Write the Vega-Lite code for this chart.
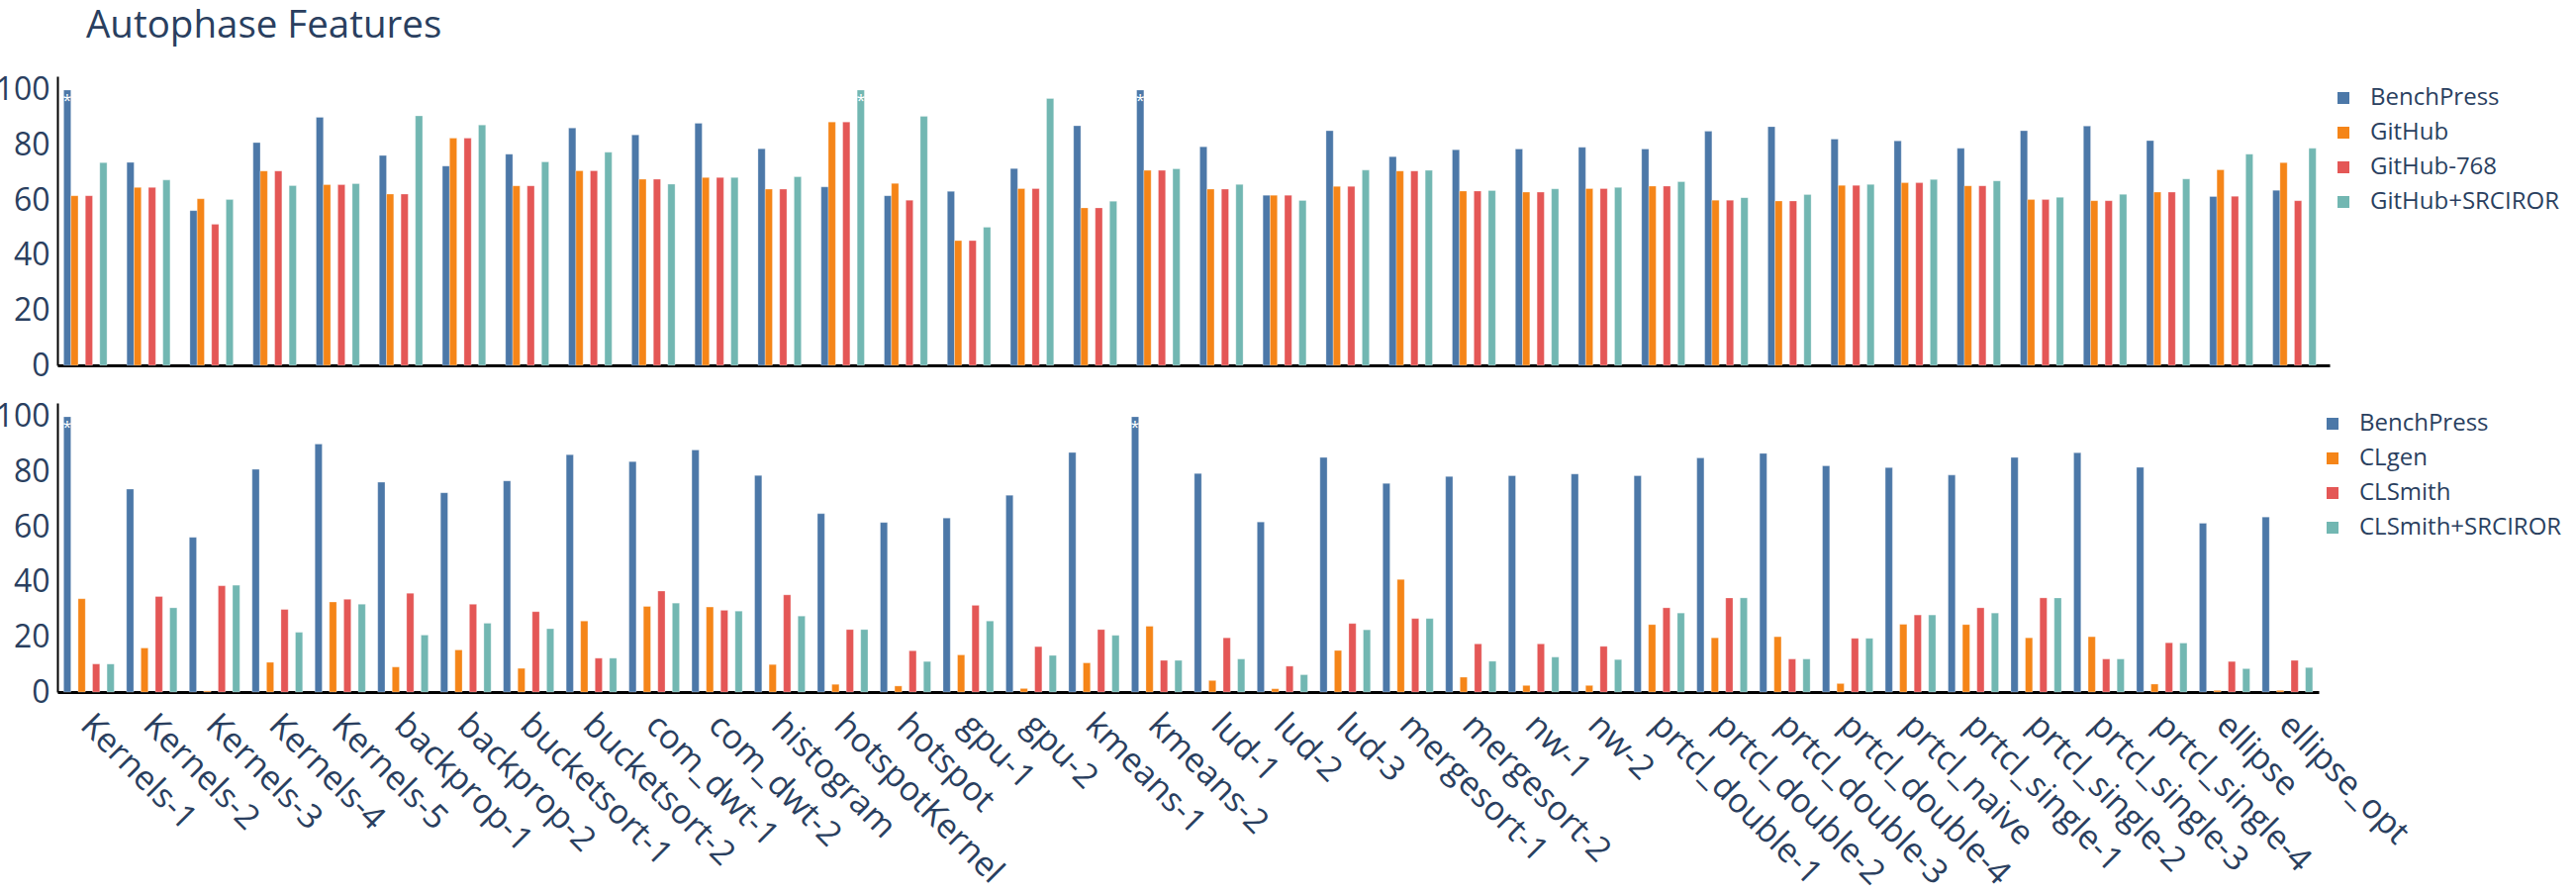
{
  "$schema": "https://vega.github.io/schema/vega-lite/v6.json",
  "padding": {"left": -5, "top": 7, "right": 0, "bottom": 0},
  "background": "white",
  "config": {
    "font": "Open Sans",
    "view": {"stroke": null},
    "axis": {"labelColor": "#2a3f5f", "labelFont": "Open Sans", "grid": false, "ticks": false, "title": null},
    "legend": {"labelFont": "Open Sans"}
  },
  "title": {"text": "Autophase Features", "anchor": "start", "frame": "group", "fontSize": 38.5, "fontWeight": "normal", "color": "#2a3f5f", "font": "Open Sans", "dx": 29, "offset": 28},
  "spacing": 19,
  "resolve": {"scale": {"color": "independent"}},
  "datasets": {
    "github": [
      {"benchmark": "Kernels-1", "source": "BenchPress", "value": 100},
      {"benchmark": "Kernels-1", "source": "GitHub", "value": 61.6},
      {"benchmark": "Kernels-1", "source": "GitHub-768", "value": 61.6},
      {"benchmark": "Kernels-1", "source": "GitHub+SRCIROR", "value": 73.6},
      {"benchmark": "Kernels-2", "source": "BenchPress", "value": 73.7},
      {"benchmark": "Kernels-2", "source": "GitHub", "value": 64.6},
      {"benchmark": "Kernels-2", "source": "GitHub-768", "value": 64.6},
      {"benchmark": "Kernels-2", "source": "GitHub+SRCIROR", "value": 67.3},
      {"benchmark": "Kernels-3", "source": "BenchPress", "value": 56.2},
      {"benchmark": "Kernels-3", "source": "GitHub", "value": 60.5},
      {"benchmark": "Kernels-3", "source": "GitHub-768", "value": 51.2},
      {"benchmark": "Kernels-3", "source": "GitHub+SRCIROR", "value": 60.2},
      {"benchmark": "Kernels-4", "source": "BenchPress", "value": 80.9},
      {"benchmark": "Kernels-4", "source": "GitHub", "value": 70.6},
      {"benchmark": "Kernels-4", "source": "GitHub-768", "value": 70.6},
      {"benchmark": "Kernels-4", "source": "GitHub+SRCIROR", "value": 65.3},
      {"benchmark": "Kernels-5", "source": "BenchPress", "value": 90.1},
      {"benchmark": "Kernels-5", "source": "GitHub", "value": 65.6},
      {"benchmark": "Kernels-5", "source": "GitHub-768", "value": 65.6},
      {"benchmark": "Kernels-5", "source": "GitHub+SRCIROR", "value": 66.0},
      {"benchmark": "backprop-1", "source": "BenchPress", "value": 76.2},
      {"benchmark": "backprop-1", "source": "GitHub", "value": 62.2},
      {"benchmark": "backprop-1", "source": "GitHub-768", "value": 62.2},
      {"benchmark": "backprop-1", "source": "GitHub+SRCIROR", "value": 90.6},
      {"benchmark": "backprop-2", "source": "BenchPress", "value": 72.4},
      {"benchmark": "backprop-2", "source": "GitHub", "value": 82.5},
      {"benchmark": "backprop-2", "source": "GitHub-768", "value": 82.5},
      {"benchmark": "backprop-2", "source": "GitHub+SRCIROR", "value": 87.3},
      {"benchmark": "bucketsort-1", "source": "BenchPress", "value": 76.7},
      {"benchmark": "bucketsort-1", "source": "GitHub", "value": 65.2},
      {"benchmark": "bucketsort-1", "source": "GitHub-768", "value": 65.2},
      {"benchmark": "bucketsort-1", "source": "GitHub+SRCIROR", "value": 73.9},
      {"benchmark": "bucketsort-2", "source": "BenchPress", "value": 86.2},
      {"benchmark": "bucketsort-2", "source": "GitHub", "value": 70.7},
      {"benchmark": "bucketsort-2", "source": "GitHub-768", "value": 70.7},
      {"benchmark": "bucketsort-2", "source": "GitHub+SRCIROR", "value": 77.4},
      {"benchmark": "com_dwt-1", "source": "BenchPress", "value": 83.7},
      {"benchmark": "com_dwt-1", "source": "GitHub", "value": 67.6},
      {"benchmark": "com_dwt-1", "source": "GitHub-768", "value": 67.6},
      {"benchmark": "com_dwt-1", "source": "GitHub+SRCIROR", "value": 65.8},
      {"benchmark": "com_dwt-2", "source": "BenchPress", "value": 87.9},
      {"benchmark": "com_dwt-2", "source": "GitHub", "value": 68.2},
      {"benchmark": "com_dwt-2", "source": "GitHub-768", "value": 68.2},
      {"benchmark": "com_dwt-2", "source": "GitHub+SRCIROR", "value": 68.2},
      {"benchmark": "histogram", "source": "BenchPress", "value": 78.7},
      {"benchmark": "histogram", "source": "GitHub", "value": 64.0},
      {"benchmark": "histogram", "source": "GitHub-768", "value": 64.0},
      {"benchmark": "histogram", "source": "GitHub+SRCIROR", "value": 68.5},
      {"benchmark": "hotspotKernel", "source": "BenchPress", "value": 64.8},
      {"benchmark": "hotspotKernel", "source": "GitHub", "value": 88.4},
      {"benchmark": "hotspotKernel", "source": "GitHub-768", "value": 88.4},
      {"benchmark": "hotspotKernel", "source": "GitHub+SRCIROR", "value": 100},
      {"benchmark": "hotspot", "source": "BenchPress", "value": 61.6},
      {"benchmark": "hotspot", "source": "GitHub", "value": 66.1},
      {"benchmark": "hotspot", "source": "GitHub-768", "value": 60.0},
      {"benchmark": "hotspot", "source": "GitHub+SRCIROR", "value": 90.4},
      {"benchmark": "gpu-1", "source": "BenchPress", "value": 63.2},
      {"benchmark": "gpu-1", "source": "GitHub", "value": 45.3},
      {"benchmark": "gpu-1", "source": "GitHub-768", "value": 45.3},
      {"benchmark": "gpu-1", "source": "GitHub+SRCIROR", "value": 50.2},
      {"benchmark": "gpu-2", "source": "BenchPress", "value": 71.5},
      {"benchmark": "gpu-2", "source": "GitHub", "value": 64.2},
      {"benchmark": "gpu-2", "source": "GitHub-768", "value": 64.2},
      {"benchmark": "gpu-2", "source": "GitHub+SRCIROR", "value": 96.9},
      {"benchmark": "kmeans-1", "source": "BenchPress", "value": 87.0},
      {"benchmark": "kmeans-1", "source": "GitHub", "value": 57.2},
      {"benchmark": "kmeans-1", "source": "GitHub-768", "value": 57.2},
      {"benchmark": "kmeans-1", "source": "GitHub+SRCIROR", "value": 59.6},
      {"benchmark": "kmeans-2", "source": "BenchPress", "value": 100},
      {"benchmark": "kmeans-2", "source": "GitHub", "value": 70.8},
      {"benchmark": "kmeans-2", "source": "GitHub-768", "value": 70.8},
      {"benchmark": "kmeans-2", "source": "GitHub+SRCIROR", "value": 71.4},
      {"benchmark": "lud-1", "source": "BenchPress", "value": 79.4},
      {"benchmark": "lud-1", "source": "GitHub", "value": 64.0},
      {"benchmark": "lud-1", "source": "GitHub-768", "value": 64.0},
      {"benchmark": "lud-1", "source": "GitHub+SRCIROR", "value": 65.7},
      {"benchmark": "lud-2", "source": "BenchPress", "value": 61.8},
      {"benchmark": "lud-2", "source": "GitHub", "value": 61.8},
      {"benchmark": "lud-2", "source": "GitHub-768", "value": 61.8},
      {"benchmark": "lud-2", "source": "GitHub+SRCIROR", "value": 59.9},
      {"benchmark": "lud-3", "source": "BenchPress", "value": 85.2},
      {"benchmark": "lud-3", "source": "GitHub", "value": 65.0},
      {"benchmark": "lud-3", "source": "GitHub-768", "value": 65.0},
      {"benchmark": "lud-3", "source": "GitHub+SRCIROR", "value": 70.9},
      {"benchmark": "mergesort-1", "source": "BenchPress", "value": 75.8},
      {"benchmark": "mergesort-1", "source": "GitHub", "value": 70.6},
      {"benchmark": "mergesort-1", "source": "GitHub-768", "value": 70.6},
      {"benchmark": "mergesort-1", "source": "GitHub+SRCIROR", "value": 70.8},
      {"benchmark": "mergesort-2", "source": "BenchPress", "value": 78.3},
      {"benchmark": "mergesort-2", "source": "GitHub", "value": 63.3},
      {"benchmark": "mergesort-2", "source": "GitHub-768", "value": 63.3},
      {"benchmark": "mergesort-2", "source": "GitHub+SRCIROR", "value": 63.5},
      {"benchmark": "nw-1", "source": "BenchPress", "value": 78.6},
      {"benchmark": "nw-1", "source": "GitHub", "value": 62.9},
      {"benchmark": "nw-1", "source": "GitHub-768", "value": 62.9},
      {"benchmark": "nw-1", "source": "GitHub+SRCIROR", "value": 64.1},
      {"benchmark": "nw-2", "source": "BenchPress", "value": 79.2},
      {"benchmark": "nw-2", "source": "GitHub", "value": 64.2},
      {"benchmark": "nw-2", "source": "GitHub-768", "value": 64.2},
      {"benchmark": "nw-2", "source": "GitHub+SRCIROR", "value": 64.6},
      {"benchmark": "prtcl_double-1", "source": "BenchPress", "value": 78.6},
      {"benchmark": "prtcl_double-1", "source": "GitHub", "value": 65.1},
      {"benchmark": "prtcl_double-1", "source": "GitHub-768", "value": 65.1},
      {"benchmark": "prtcl_double-1", "source": "GitHub+SRCIROR", "value": 66.7},
      {"benchmark": "prtcl_double-2", "source": "BenchPress", "value": 85.0},
      {"benchmark": "prtcl_double-2", "source": "GitHub", "value": 60.0},
      {"benchmark": "prtcl_double-2", "source": "GitHub-768", "value": 60.0},
      {"benchmark": "prtcl_double-2", "source": "GitHub+SRCIROR", "value": 60.9},
      {"benchmark": "prtcl_double-3", "source": "BenchPress", "value": 86.7},
      {"benchmark": "prtcl_double-3", "source": "GitHub", "value": 59.7},
      {"benchmark": "prtcl_double-3", "source": "GitHub-768", "value": 59.7},
      {"benchmark": "prtcl_double-3", "source": "GitHub+SRCIROR", "value": 62.0},
      {"benchmark": "prtcl_double-4", "source": "BenchPress", "value": 82.2},
      {"benchmark": "prtcl_double-4", "source": "GitHub", "value": 65.4},
      {"benchmark": "prtcl_double-4", "source": "GitHub-768", "value": 65.4},
      {"benchmark": "prtcl_double-4", "source": "GitHub+SRCIROR", "value": 65.7},
      {"benchmark": "prtcl_naive", "source": "BenchPress", "value": 81.5},
      {"benchmark": "prtcl_naive", "source": "GitHub", "value": 66.3},
      {"benchmark": "prtcl_naive", "source": "GitHub-768", "value": 66.3},
      {"benchmark": "prtcl_naive", "source": "GitHub+SRCIROR", "value": 67.5},
      {"benchmark": "prtcl_single-1", "source": "BenchPress", "value": 78.8},
      {"benchmark": "prtcl_single-1", "source": "GitHub", "value": 65.2},
      {"benchmark": "prtcl_single-1", "source": "GitHub-768", "value": 65.2},
      {"benchmark": "prtcl_single-1", "source": "GitHub+SRCIROR", "value": 67.0},
      {"benchmark": "prtcl_single-2", "source": "BenchPress", "value": 85.2},
      {"benchmark": "prtcl_single-2", "source": "GitHub", "value": 60.2},
      {"benchmark": "prtcl_single-2", "source": "GitHub-768", "value": 60.2},
      {"benchmark": "prtcl_single-2", "source": "GitHub+SRCIROR", "value": 61.0},
      {"benchmark": "prtcl_single-3", "source": "BenchPress", "value": 86.9},
      {"benchmark": "prtcl_single-3", "source": "GitHub", "value": 59.8},
      {"benchmark": "prtcl_single-3", "source": "GitHub-768", "value": 59.8},
      {"benchmark": "prtcl_single-3", "source": "GitHub+SRCIROR", "value": 62.1},
      {"benchmark": "prtcl_single-4", "source": "BenchPress", "value": 81.6},
      {"benchmark": "prtcl_single-4", "source": "GitHub", "value": 62.9},
      {"benchmark": "prtcl_single-4", "source": "GitHub-768", "value": 62.9},
      {"benchmark": "prtcl_single-4", "source": "GitHub+SRCIROR", "value": 67.7},
      {"benchmark": "ellipse", "source": "BenchPress", "value": 61.3},
      {"benchmark": "ellipse", "source": "GitHub", "value": 71.0},
      {"benchmark": "ellipse", "source": "GitHub-768", "value": 61.4},
      {"benchmark": "ellipse", "source": "GitHub+SRCIROR", "value": 76.7},
      {"benchmark": "ellipse_opt", "source": "BenchPress", "value": 63.6},
      {"benchmark": "ellipse_opt", "source": "GitHub", "value": 73.6},
      {"benchmark": "ellipse_opt", "source": "GitHub-768", "value": 59.8},
      {"benchmark": "ellipse_opt", "source": "GitHub+SRCIROR", "value": 78.8}
    ],
    "clsmith": [
      {"benchmark": "Kernels-1", "source": "BenchPress", "value": 100},
      {"benchmark": "Kernels-1", "source": "CLgen", "value": 33.9},
      {"benchmark": "Kernels-1", "source": "CLSmith", "value": 10.2},
      {"benchmark": "Kernels-1", "source": "CLSmith+SRCIROR", "value": 10.2},
      {"benchmark": "Kernels-2", "source": "BenchPress", "value": 73.7},
      {"benchmark": "Kernels-2", "source": "CLgen", "value": 16.0},
      {"benchmark": "Kernels-2", "source": "CLSmith", "value": 34.7},
      {"benchmark": "Kernels-2", "source": "CLSmith+SRCIROR", "value": 30.6},
      {"benchmark": "Kernels-3", "source": "BenchPress", "value": 56.2},
      {"benchmark": "Kernels-3", "source": "CLgen", "value": 0.4},
      {"benchmark": "Kernels-3", "source": "CLSmith", "value": 38.6},
      {"benchmark": "Kernels-3", "source": "CLSmith+SRCIROR", "value": 38.8},
      {"benchmark": "Kernels-4", "source": "BenchPress", "value": 80.9},
      {"benchmark": "Kernels-4", "source": "CLgen", "value": 10.8},
      {"benchmark": "Kernels-4", "source": "CLSmith", "value": 30.0},
      {"benchmark": "Kernels-4", "source": "CLSmith+SRCIROR", "value": 21.7},
      {"benchmark": "Kernels-5", "source": "BenchPress", "value": 90.1},
      {"benchmark": "Kernels-5", "source": "CLgen", "value": 32.7},
      {"benchmark": "Kernels-5", "source": "CLSmith", "value": 33.7},
      {"benchmark": "Kernels-5", "source": "CLSmith+SRCIROR", "value": 31.9},
      {"benchmark": "backprop-1", "source": "BenchPress", "value": 76.2},
      {"benchmark": "backprop-1", "source": "CLgen", "value": 9.1},
      {"benchmark": "backprop-1", "source": "CLSmith", "value": 35.9},
      {"benchmark": "backprop-1", "source": "CLSmith+SRCIROR", "value": 20.7},
      {"benchmark": "backprop-2", "source": "BenchPress", "value": 72.4},
      {"benchmark": "backprop-2", "source": "CLgen", "value": 15.3},
      {"benchmark": "backprop-2", "source": "CLSmith", "value": 31.9},
      {"benchmark": "backprop-2", "source": "CLSmith+SRCIROR", "value": 25.0},
      {"benchmark": "bucketsort-1", "source": "BenchPress", "value": 76.7},
      {"benchmark": "bucketsort-1", "source": "CLgen", "value": 8.6},
      {"benchmark": "bucketsort-1", "source": "CLSmith", "value": 29.2},
      {"benchmark": "bucketsort-1", "source": "CLSmith+SRCIROR", "value": 23.0},
      {"benchmark": "bucketsort-2", "source": "BenchPress", "value": 86.2},
      {"benchmark": "bucketsort-2", "source": "CLgen", "value": 25.8},
      {"benchmark": "bucketsort-2", "source": "CLSmith", "value": 12.3},
      {"benchmark": "bucketsort-2", "source": "CLSmith+SRCIROR", "value": 12.3},
      {"benchmark": "com_dwt-1", "source": "BenchPress", "value": 83.7},
      {"benchmark": "com_dwt-1", "source": "CLgen", "value": 31.1},
      {"benchmark": "com_dwt-1", "source": "CLSmith", "value": 36.7},
      {"benchmark": "com_dwt-1", "source": "CLSmith+SRCIROR", "value": 32.3},
      {"benchmark": "com_dwt-2", "source": "BenchPress", "value": 87.9},
      {"benchmark": "com_dwt-2", "source": "CLgen", "value": 30.9},
      {"benchmark": "com_dwt-2", "source": "CLSmith", "value": 29.7},
      {"benchmark": "com_dwt-2", "source": "CLSmith+SRCIROR", "value": 29.4},
      {"benchmark": "histogram", "source": "BenchPress", "value": 78.7},
      {"benchmark": "histogram", "source": "CLgen", "value": 10.0},
      {"benchmark": "histogram", "source": "CLSmith", "value": 35.3},
      {"benchmark": "histogram", "source": "CLSmith+SRCIROR", "value": 27.6},
      {"benchmark": "hotspotKernel", "source": "BenchPress", "value": 64.8},
      {"benchmark": "hotspotKernel", "source": "CLgen", "value": 2.8},
      {"benchmark": "hotspotKernel", "source": "CLSmith", "value": 22.7},
      {"benchmark": "hotspotKernel", "source": "CLSmith+SRCIROR", "value": 22.7},
      {"benchmark": "hotspot", "source": "BenchPress", "value": 61.6},
      {"benchmark": "hotspot", "source": "CLgen", "value": 2.2},
      {"benchmark": "hotspot", "source": "CLSmith", "value": 15.0},
      {"benchmark": "hotspot", "source": "CLSmith+SRCIROR", "value": 11.1},
      {"benchmark": "gpu-1", "source": "BenchPress", "value": 63.2},
      {"benchmark": "gpu-1", "source": "CLgen", "value": 13.5},
      {"benchmark": "gpu-1", "source": "CLSmith", "value": 31.5},
      {"benchmark": "gpu-1", "source": "CLSmith+SRCIROR", "value": 25.8},
      {"benchmark": "gpu-2", "source": "BenchPress", "value": 71.5},
      {"benchmark": "gpu-2", "source": "CLgen", "value": 1.3},
      {"benchmark": "gpu-2", "source": "CLSmith", "value": 16.5},
      {"benchmark": "gpu-2", "source": "CLSmith+SRCIROR", "value": 13.3},
      {"benchmark": "kmeans-1", "source": "BenchPress", "value": 87.0},
      {"benchmark": "kmeans-1", "source": "CLgen", "value": 10.6},
      {"benchmark": "kmeans-1", "source": "CLSmith", "value": 22.7},
      {"benchmark": "kmeans-1", "source": "CLSmith+SRCIROR", "value": 20.6},
      {"benchmark": "kmeans-2", "source": "BenchPress", "value": 100},
      {"benchmark": "kmeans-2", "source": "CLgen", "value": 23.9},
      {"benchmark": "kmeans-2", "source": "CLSmith", "value": 11.5},
      {"benchmark": "kmeans-2", "source": "CLSmith+SRCIROR", "value": 11.5},
      {"benchmark": "lud-1", "source": "BenchPress", "value": 79.4},
      {"benchmark": "lud-1", "source": "CLgen", "value": 4.2},
      {"benchmark": "lud-1", "source": "CLSmith", "value": 19.7},
      {"benchmark": "lud-1", "source": "CLSmith+SRCIROR", "value": 12.0},
      {"benchmark": "lud-2", "source": "BenchPress", "value": 61.8},
      {"benchmark": "lud-2", "source": "CLgen", "value": 1.2},
      {"benchmark": "lud-2", "source": "CLSmith", "value": 9.4},
      {"benchmark": "lud-2", "source": "CLSmith+SRCIROR", "value": 6.3},
      {"benchmark": "lud-3", "source": "BenchPress", "value": 85.2},
      {"benchmark": "lud-3", "source": "CLgen", "value": 15.1},
      {"benchmark": "lud-3", "source": "CLSmith", "value": 24.9},
      {"benchmark": "lud-3", "source": "CLSmith+SRCIROR", "value": 22.6},
      {"benchmark": "mergesort-1", "source": "BenchPress", "value": 75.8},
      {"benchmark": "mergesort-1", "source": "CLgen", "value": 40.9},
      {"benchmark": "mergesort-1", "source": "CLSmith", "value": 26.7},
      {"benchmark": "mergesort-1", "source": "CLSmith+SRCIROR", "value": 26.7},
      {"benchmark": "mergesort-2", "source": "BenchPress", "value": 78.3},
      {"benchmark": "mergesort-2", "source": "CLgen", "value": 5.4},
      {"benchmark": "mergesort-2", "source": "CLSmith", "value": 17.5},
      {"benchmark": "mergesort-2", "source": "CLSmith+SRCIROR", "value": 11.2},
      {"benchmark": "nw-1", "source": "BenchPress", "value": 78.6},
      {"benchmark": "nw-1", "source": "CLgen", "value": 2.4},
      {"benchmark": "nw-1", "source": "CLSmith", "value": 17.5},
      {"benchmark": "nw-1", "source": "CLSmith+SRCIROR", "value": 12.7},
      {"benchmark": "nw-2", "source": "BenchPress", "value": 79.2},
      {"benchmark": "nw-2", "source": "CLgen", "value": 2.4},
      {"benchmark": "nw-2", "source": "CLSmith", "value": 16.6},
      {"benchmark": "nw-2", "source": "CLSmith+SRCIROR", "value": 11.8},
      {"benchmark": "prtcl_double-1", "source": "BenchPress", "value": 78.6},
      {"benchmark": "prtcl_double-1", "source": "CLgen", "value": 24.5},
      {"benchmark": "prtcl_double-1", "source": "CLSmith", "value": 30.6},
      {"benchmark": "prtcl_double-1", "source": "CLSmith+SRCIROR", "value": 28.7},
      {"benchmark": "prtcl_double-2", "source": "BenchPress", "value": 85.0},
      {"benchmark": "prtcl_double-2", "source": "CLgen", "value": 19.7},
      {"benchmark": "prtcl_double-2", "source": "CLSmith", "value": 34.2},
      {"benchmark": "prtcl_double-2", "source": "CLSmith+SRCIROR", "value": 34.2},
      {"benchmark": "prtcl_double-3", "source": "BenchPress", "value": 86.7},
      {"benchmark": "prtcl_double-3", "source": "CLgen", "value": 20.1},
      {"benchmark": "prtcl_double-3", "source": "CLSmith", "value": 12.0},
      {"benchmark": "prtcl_double-3", "source": "CLSmith+SRCIROR", "value": 12.0},
      {"benchmark": "prtcl_double-4", "source": "BenchPress", "value": 82.2},
      {"benchmark": "prtcl_double-4", "source": "CLgen", "value": 3.1},
      {"benchmark": "prtcl_double-4", "source": "CLSmith", "value": 19.5},
      {"benchmark": "prtcl_double-4", "source": "CLSmith+SRCIROR", "value": 19.5},
      {"benchmark": "prtcl_naive", "source": "BenchPress", "value": 81.5},
      {"benchmark": "prtcl_naive", "source": "CLgen", "value": 24.6},
      {"benchmark": "prtcl_naive", "source": "CLSmith", "value": 28.0},
      {"benchmark": "prtcl_naive", "source": "CLSmith+SRCIROR", "value": 28.0},
      {"benchmark": "prtcl_single-1", "source": "BenchPress", "value": 78.8},
      {"benchmark": "prtcl_single-1", "source": "CLgen", "value": 24.5},
      {"benchmark": "prtcl_single-1", "source": "CLSmith", "value": 30.6},
      {"benchmark": "prtcl_single-1", "source": "CLSmith+SRCIROR", "value": 28.7},
      {"benchmark": "prtcl_single-2", "source": "BenchPress", "value": 85.2},
      {"benchmark": "prtcl_single-2", "source": "CLgen", "value": 19.7},
      {"benchmark": "prtcl_single-2", "source": "CLSmith", "value": 34.2},
      {"benchmark": "prtcl_single-2", "source": "CLSmith+SRCIROR", "value": 34.2},
      {"benchmark": "prtcl_single-3", "source": "BenchPress", "value": 86.9},
      {"benchmark": "prtcl_single-3", "source": "CLgen", "value": 20.1},
      {"benchmark": "prtcl_single-3", "source": "CLSmith", "value": 12.0},
      {"benchmark": "prtcl_single-3", "source": "CLSmith+SRCIROR", "value": 12.0},
      {"benchmark": "prtcl_single-4", "source": "BenchPress", "value": 81.6},
      {"benchmark": "prtcl_single-4", "source": "CLgen", "value": 2.9},
      {"benchmark": "prtcl_single-4", "source": "CLSmith", "value": 17.9},
      {"benchmark": "prtcl_single-4", "source": "CLSmith+SRCIROR", "value": 17.8},
      {"benchmark": "ellipse", "source": "BenchPress", "value": 61.3},
      {"benchmark": "ellipse", "source": "CLgen", "value": 0.6},
      {"benchmark": "ellipse", "source": "CLSmith", "value": 11.1},
      {"benchmark": "ellipse", "source": "CLSmith+SRCIROR", "value": 8.5},
      {"benchmark": "ellipse_opt", "source": "BenchPress", "value": 63.6},
      {"benchmark": "ellipse_opt", "source": "CLgen", "value": 0.6},
      {"benchmark": "ellipse_opt", "source": "CLSmith", "value": 11.5},
      {"benchmark": "ellipse_opt", "source": "CLSmith+SRCIROR", "value": 8.9}
    ]
  },
  "vconcat": [
    {
      "width": 2296,
      "height": 292,
      "data": {"name": "github"},
      "encoding": {
        "x": {"field": "benchmark", "type": "nominal",
          "sort": ["Kernels-1","Kernels-2","Kernels-3","Kernels-4","Kernels-5","backprop-1","backprop-2","bucketsort-1","bucketsort-2","com_dwt-1","com_dwt-2","histogram","hotspotKernel","hotspot","gpu-1","gpu-2","kmeans-1","kmeans-2","lud-1","lud-2","lud-3","mergesort-1","mergesort-2","nw-1","nw-2","prtcl_double-1","prtcl_double-2","prtcl_double-3","prtcl_double-4","prtcl_naive","prtcl_single-1","prtcl_single-2","prtcl_single-3","prtcl_single-4","ellipse","ellipse_opt"],
          "scale": {"paddingInner": 0.2, "paddingOuter": 0.1},
          "axis": {"labels": false, "ticks": false, "domainColor": "#000000", "domainWidth": 3, "title": null}},
        "xOffset": {"field": "source", "type": "nominal", "sort": ["BenchPress","GitHub","GitHub-768","GitHub+SRCIROR"], "scale": {"paddingInner": 0, "paddingOuter": 0}},
        "y": {"field": "value", "type": "quantitative", "scale": {"domain": [0, 105], "nice": false},
          "axis": {"values": [0, 20, 40, 60, 80, 100], "labelFontSize": 32, "labelPadding": 8, "domainColor": "#000000", "domainWidth": 2, "ticks": false, "grid": false, "title": null}}
      },
      "layer": [
        {
          "mark": {"type": "bar", "stroke": "white", "strokeWidth": 1, "strokeOpacity": 0.3},
          "encoding": {
            "color": {"field": "source", "type": "nominal",
              "scale": {"domain": ["BenchPress","GitHub","GitHub-768","GitHub+SRCIROR"], "range": ["#4c78a8","#f58518","#e45756","#72b7b2"]},
              "legend": {"orient": "none", "legendX": 2298, "legendY": 10, "title": null, "symbolType": "square", "symbolSize": 144, "symbolStrokeWidth": 0, "labelFontSize": 24, "labelColor": "#2a3f5f", "labelOffset": 15, "labelLimit": 500, "rowPadding": 11}}
          }
        },
        {
          "transform": [{"filter": "datum.value >= 100"}],
          "mark": {"type": "text", "text": "*", "color": "white", "fontSize": 16, "baseline": "top", "dy": 3}
        }
      ]
    },
    {
      "width": 2285,
      "height": 292,
      "data": {"name": "clsmith"},
      "encoding": {
        "x": {"field": "benchmark", "type": "nominal",
          "sort": ["Kernels-1","Kernels-2","Kernels-3","Kernels-4","Kernels-5","backprop-1","backprop-2","bucketsort-1","bucketsort-2","com_dwt-1","com_dwt-2","histogram","hotspotKernel","hotspot","gpu-1","gpu-2","kmeans-1","kmeans-2","lud-1","lud-2","lud-3","mergesort-1","mergesort-2","nw-1","nw-2","prtcl_double-1","prtcl_double-2","prtcl_double-3","prtcl_double-4","prtcl_naive","prtcl_single-1","prtcl_single-2","prtcl_single-3","prtcl_single-4","ellipse","ellipse_opt"],
          "scale": {"paddingInner": 0.2, "paddingOuter": 0.1},
          "axis": {"labelAngle": 45, "labelAlign": "left", "labelBaseline": "top", "labelFontSize": 34, "labelPadding": 16, "labelOffset": 9, "labelOverlap": false, "labelFlush": false, "labelBound": false, "labelLimit": 400, "ticks": false, "domainColor": "#000000", "domainWidth": 3, "title": null}},
        "xOffset": {"field": "source", "type": "nominal", "sort": ["BenchPress","CLgen","CLSmith","CLSmith+SRCIROR"], "scale": {"paddingInner": 0, "paddingOuter": 0}},
        "y": {"field": "value", "type": "quantitative", "scale": {"domain": [0, 105], "nice": false},
          "axis": {"values": [0, 20, 40, 60, 80, 100], "labelFontSize": 32, "labelPadding": 8, "domainColor": "#000000", "domainWidth": 2, "ticks": false, "grid": false, "title": null}}
      },
      "layer": [
        {
          "mark": {"type": "bar", "stroke": "white", "strokeWidth": 1, "strokeOpacity": 0.3},
          "encoding": {
            "color": {"field": "source", "type": "nominal",
              "scale": {"domain": ["BenchPress","CLgen","CLSmith","CLSmith+SRCIROR"], "range": ["#4c78a8","#f58518","#e45756","#72b7b2"]},
              "legend": {"orient": "none", "legendX": 2287, "legendY": 9, "title": null, "symbolType": "square", "symbolSize": 144, "symbolStrokeWidth": 0, "labelFontSize": 24, "labelColor": "#2a3f5f", "labelOffset": 15, "labelLimit": 500, "rowPadding": 11}}
          }
        },
        {
          "transform": [{"filter": "datum.value >= 100"}],
          "mark": {"type": "text", "text": "*", "color": "white", "fontSize": 16, "baseline": "top", "dy": 3}
        }
      ]
    }
  ]
}
